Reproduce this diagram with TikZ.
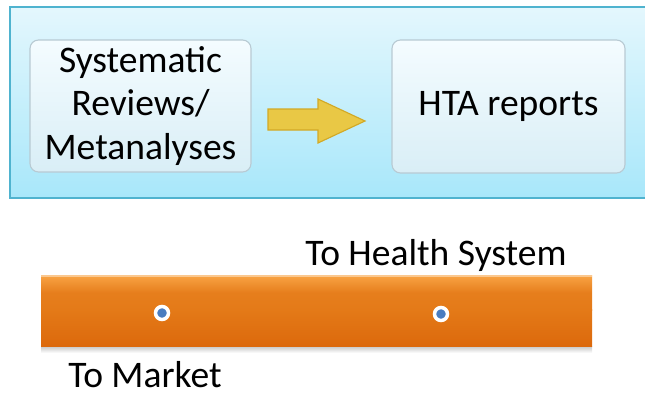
\documentclass[tikz,border=0pt]{standalone}
\usepackage{fontspec}
\setmainfont{Carlito}
\usetikzlibrary{positioning}
\definecolor{panelTop}{HTML}{E4F7FD}
\definecolor{panelBot}{HTML}{A8E7FA}
\definecolor{panelLine}{HTML}{4FB3CF}
\definecolor{boxTop}{HTML}{F4FCFF}
\definecolor{boxBot}{HTML}{D9EEF6}
\definecolor{boxLine}{HTML}{B8CAD3}
\definecolor{arrowFill}{HTML}{E9C845}
\definecolor{arrowLine}{HTML}{D2A925}
\definecolor{barTop}{HTML}{F9A445}
\definecolor{barMid}{HTML}{E47A18}
\definecolor{barBot}{HTML}{DC690C}
\definecolor{dotBlue}{HTML}{4A7DC0}

\begin{document}
\begin{tikzpicture}[
	x=0.025cm, y=-0.025cm,
	every node/.style = {font=\fontsize{26.7}{31}\selectfont, inner sep=0pt},
	stepbox/.style = {draw=boxLine, line width=0.8pt, rounded corners=6pt, top color=boxTop, bottom color=boxBot, align=center},
	dotmark/.style = {circle, draw=white, line width=2.5pt, fill=dotBlue, minimum size=13*0.025cm}
	]
	\useasboundingbox (0,0) rectangle (645,395);
	
	% Panel
	\shade[top color=panelTop, bottom color=panelBot] (10,7) rectangle (645,198);
	\draw[panelLine, line width=1.5pt] (645,7) -- (10,7) -- (10,198) -- (645,198);
	
	% Boxes
	\node[stepbox, minimum width=221*0.025cm, minimum height=132*0.025cm] (sysrev) at (140.5,106) {Systematic\\Reviews/\\Metanalyses};
	\node[stepbox, minimum width=233*0.025cm, minimum height=133*0.025cm] (hta) at (508.5,106.5) {HTA reports};
	
	% Block arrow
	\draw[arrowLine, fill=arrowFill, line width=0.8pt]
		(268,109) -- (318,109) -- (318,99) -- (365,121) -- (318,143) -- (318,130) -- (268,130) -- cycle;
	
	% Bar
	\shade[top color=gray!45, bottom color=white] (41,346) rectangle (592,353);
	\shade[top color=barTop, bottom color=barMid, middle color=barMid!90!barTop] (41,275) rectangle (592,310);
	\shade[top color=barMid, bottom color=barBot] (41,309) rectangle (592,346);
	\fill[barTop!60!white] (41,275) rectangle (592,277);
	
	% Marks on the bar
	\node[dotmark] (dotmarket) at (162,313) {};
	\node[dotmark] (dothealth) at (441,314) {};
	
	% Labels
	\node[anchor=base west] (health) at (305,265) {To Health System};
	\node[anchor=base west] (market) at (68,387) {To Market};
	
\end{tikzpicture}
\end{document}
